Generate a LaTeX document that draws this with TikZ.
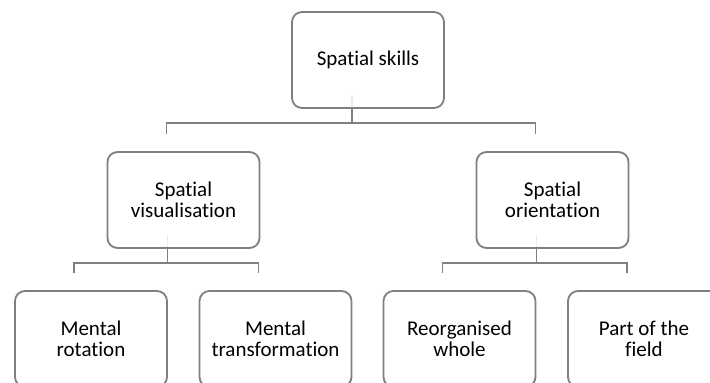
\documentclass[tikz,border=0pt]{standalone}
\usepackage{fontspec}
\setmainfont{Carlito}[RawFeature=-liga]
\usetikzlibrary{backgrounds}

\definecolor{boxgray}{RGB}{127,127,127}

\tikzset{
    skillbox/.style={draw=boxgray, line width=1.8pt, rounded corners=10pt,
        fill=white, fill opacity=0.85, text opacity=1,
        minimum width=152pt, minimum height=96pt, inner sep=2pt,
        align=center, font=\fontsize{21}{21}\selectfont},
    link/.style={draw=boxgray, line width=1.8pt}
}

\begin{document}
\begin{tikzpicture}[x=1pt,y=-1pt]

\useasboundingbox (0,0) rectangle (710,383);
\clip (0,0) rectangle (710,383);

%==================== boxes ====================
\node[skillbox] (top)  at (368,60)   {Spatial skills};
\node[skillbox] (midL) at (183.5,200) {Spatial\\visualisation};
\node[skillbox] (midR) at (552.5,200) {Spatial\\orientation};

\node[skillbox] (botA) at (91,339)    {Mental\\rotation};
\node[skillbox] (botB) at (275.5,339) {Mental\\transformation};
\node[skillbox] (botC) at (459.5,339) {Reorganised\\whole};
\node[skillbox] (botD) at (644,339)   {Part of the\\field};

%==================== connectors ====================
\begin{scope}[on background layer]
\foreach \p/\l/\r in {top/midL/midR, midL/botA/botB, midR/botC/botD}
{
    \coordinate (\p-stub) at ([xshift=-16pt,yshift=-14pt]\p.south);
    \coordinate (\l-drop) at ([xshift=-17pt,yshift=17pt]\l.north);
    \coordinate (\r-drop) at ([xshift=-17pt,yshift=17pt]\r.north);
    \draw[link] ([xshift=-16pt,yshift=14pt]\p.south) -- (\p-stub);
    \draw[link] (\l-drop) |- (\p-stub) -| (\r-drop);
}
\end{scope}

\end{tikzpicture}
\end{document}
